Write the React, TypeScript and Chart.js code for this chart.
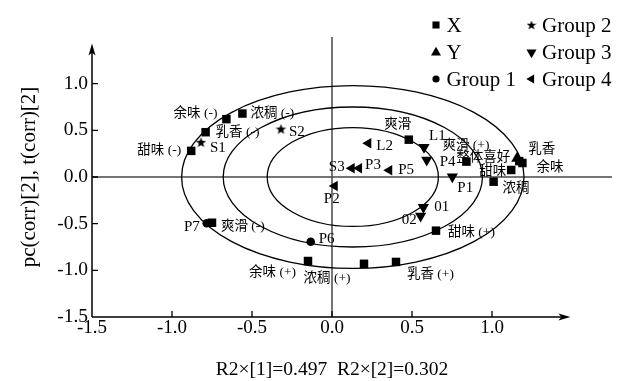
import React, { useEffect, useRef } from 'react';
import { Chart, registerables } from 'chart.js';
import { drawPoint } from 'chart.js/helpers';

Chart.register(...registerables);

// ---------------- data ----------------
const X_NAMES = ['余味 (-)', '浓稠 (-)', '乳香 (-)', '甜味 (-)', '爽滑', '爽滑 (+)', '乳香', '余味', '甜味', '浓稠', '爽滑 (-)', '余味 (+)', '浓稠 (+)', '乳香 (+)', '甜味 (+)'];
const X_PC1 = [-0.66, -0.56, -0.79, -0.88, 0.48, 0.84, 1.17, 1.19, 1.12, 1.01, -0.75, -0.15, 0.2, 0.4, 0.65];
const X_PC2 = [0.62, 0.68, 0.48, 0.28, 0.4, 0.165, 0.17, 0.15, 0.075, -0.05, -0.49, -0.9, -0.93, -0.91, -0.575];

const Y_NAMES = ['整体喜好'];
const Y_PC1 = [1.158];
const Y_PC2 = [0.2];

const G1_NAMES = ['P7', 'P6'];
const G1_PC1 = [-0.783, -0.133];
const G1_PC2 = [-0.496, -0.693];

const G2_NAMES = ['S1', 'S2'];
const G2_PC1 = [-0.819, -0.319];
const G2_PC2 = [0.372, 0.514];

const G3_NAMES = ['L1', 'P4', 'P1', '01', '02'];
const G3_PC1 = [0.575, 0.592, 0.752, 0.571, 0.554];
const G3_PC2 = [0.318, 0.182, 0.003, -0.325, -0.418];

const G4_NAMES = ['L2', 'S3', 'P3', 'P5', 'P2'];
const G4_PC1 = [0.227, 0.123, 0.169, 0.358, 0.017];
const G4_PC2 = [0.361, 0.093, 0.093, 0.072, -0.096];

const LEGEND_NAMES = ['X', 'Y', 'Group 1', 'Group 2', 'Group 3', 'Group 4'];

const X_TICKS = [-1.5, -1.0, -0.5, 0, 0.5, 1.0];
const Y_TICKS = [-1.5, -1.0, -0.5, 0, 0.5, 1.0];
const X_MIN = -1.5, X_MAX = 1.75, Y_MIN = -1.5, Y_MAX = 1.5;
const X_ARROW_END = 1.49;
const Y_ARROW_END = 1.43;

const ELLIPSE_CX = 0.13;
const ELLIPSE_CY = 0;
const ELLIPSE_RX = [1.07, 0.81, 0.535];
const ELLIPSE_RY = [0.98, 0.75, 0.53];

const X_TITLE = 'R2×[1]=0.497  R2×[2]=0.302';
const Y_TITLE = 'pc(corr)[2], t(corr)[2]';

// ---------------- layout / style (label placement) ----------------
type LP = [CanvasTextAlign, number, number];
const X_LABEL_POS: LP[] = [
  ['right', -9, -6], ['left', 8, 0], ['left', 10, 0], ['right', -10, 0], ['center', -11, -15],
  ['left', -24, -16], ['left', 9, -12], ['left', 14, 4], ['right', -5, 1], ['left', 9, 7],
  ['left', 9, 4], ['right', -12, 11], ['center', -37, 15], ['left', 11, 13], ['left', 12, 2],
];
const Y_LABEL_POS: LP[] = [['right', -7, -1]];
const G1_LABEL_POS: LP[] = [['right', -7, 4], ['left', 8, -3]];
const G2_LABEL_POS: LP[] = [['left', 9, 6], ['left', 8, 3]];
const G3_LABEL_POS: LP[] = [['left', 5, -11], ['left', 13, 2], ['left', 5, 11], ['left', 11, 0], ['right', -4, 4]];
const G4_LABEL_POS: LP[] = [['left', 8, 3], ['right', -7, -1], ['left', 6, -3], ['left', 9, 0], ['center', -3, 13]];

const SERIF = '"Liberation Serif", "Times New Roman", "Noto Sans CJK SC", serif';
const CJK_LABEL_FONT = `13.5px "Liberation Serif", "Noto Sans CJK SC", serif`;
const LATIN_LABEL_FONT = `15px ${SERIF}`;

function makeStar(size: number) {
  const c = document.createElement('canvas');
  c.width = size;
  c.height = size;
  const g = c.getContext('2d')!;
  const cx = size / 2, cy = size / 2 + 0.4;
  const R = size / 2, r = R * 0.42;
  g.beginPath();
  for (let i = 0; i < 10; i++) {
    const a = -Math.PI / 2 + (i * Math.PI) / 5;
    const rad = i % 2 ? r : R;
    const px = cx + Math.cos(a) * rad, py = cy + Math.sin(a) * rad;
    if (i === 0) g.moveTo(px, py); else g.lineTo(px, py);
  }
  g.closePath();
  g.fillStyle = '#000';
  g.fill();
  return c;
}

const pts = (a: number[], b: number[]) => a.map((v, i) => ({ x: v, y: b[i] }));

export default function App() {
  const ref = useRef<HTMLCanvasElement>(null);

  useEffect(() => {
    document.body.style.margin = '0';
    const star = makeStar(11);
    const legendStar = makeStar(10);

    const names = [X_NAMES, Y_NAMES, G1_NAMES, G2_NAMES, G3_NAMES, G4_NAMES];
    const labelPos = [X_LABEL_POS, Y_LABEL_POS, G1_LABEL_POS, G2_LABEL_POS, G3_LABEL_POS, G4_LABEL_POS];

    const decor = {
      id: 'decor',
      beforeDatasetsDraw(chart: any) {
        const { ctx, scales } = chart;
        const x = scales.x, y = scales.y;
        const px = (v: number) => x.getPixelForValue(v);
        const py = (v: number) => y.getPixelForValue(v);
        ctx.save();
        // zero lines
        ctx.strokeStyle = '#4a4a4a';
        ctx.lineWidth = 1.5;
        ctx.beginPath();
        ctx.moveTo(px(X_MIN), py(0));
        ctx.lineTo(px(X_MAX), py(0));
        ctx.moveTo(px(0), py(Y_MIN));
        ctx.lineTo(px(0), py(Y_MAX));
        ctx.stroke();
        // ellipses
        ctx.strokeStyle = '#000';
        ctx.lineWidth = 1.3;
        ELLIPSE_RX.forEach((rx, i) => {
          const cx = px(ELLIPSE_CX), cy = py(ELLIPSE_CY);
          const rpx = Math.abs(px(ELLIPSE_CX + rx) - cx);
          const rpy = Math.abs(py(ELLIPSE_CY + ELLIPSE_RY[i]) - cy);
          ctx.beginPath();
          ctx.ellipse(cx, cy, rpx, rpy, 0, 0, Math.PI * 2);
          ctx.stroke();
        });
        // axes
        ctx.strokeStyle = '#000';
        ctx.fillStyle = '#000';
        ctx.lineWidth = 1.5;
        const ox = px(X_MIN), oy = py(Y_MIN);
        const xe = px(X_ARROW_END), ye = py(Y_ARROW_END);
        ctx.beginPath();
        ctx.moveTo(ox, oy);
        ctx.lineTo(xe - 6, oy);
        ctx.moveTo(ox, oy);
        ctx.lineTo(ox, ye + 6);
        ctx.stroke();
        // arrow heads
        ctx.beginPath();
        ctx.moveTo(xe, oy);
        ctx.lineTo(xe - 12, oy - 3.5);
        ctx.lineTo(xe - 9, oy);
        ctx.lineTo(xe - 12, oy + 3.5);
        ctx.closePath();
        ctx.fill();
        ctx.beginPath();
        ctx.moveTo(ox, ye);
        ctx.lineTo(ox - 3.5, ye + 12);
        ctx.lineTo(ox, ye + 9);
        ctx.lineTo(ox + 3.5, ye + 12);
        ctx.closePath();
        ctx.fill();
        // inward ticks
        ctx.lineWidth = 1.3;
        ctx.beginPath();
        X_TICKS.forEach((v) => {
          if (v === X_MIN) return;
          ctx.moveTo(px(v), oy);
          ctx.lineTo(px(v), oy - 6);
        });
        Y_TICKS.forEach((v) => {
          if (v === Y_MIN) return;
          ctx.moveTo(ox, py(v));
          ctx.lineTo(ox + 6, py(v));
        });
        ctx.stroke();
        ctx.restore();
      },
      afterDatasetsDraw(chart: any) {
        const ctx = chart.ctx;
        ctx.save();
        ctx.fillStyle = '#000';
        ctx.textBaseline = 'middle';
        names.forEach((list, di) => {
          const meta = chart.getDatasetMeta(di);
          list.forEach((name, i) => {
            const el = meta.data[i];
            const [align, dx, dy] = labelPos[di][i];
            ctx.font = /[\u4e00-\u9fff]/.test(name) ? CJK_LABEL_FONT : LATIN_LABEL_FONT;
            ctx.textAlign = align;
            ctx.fillText(name, el.x + dx, el.y + dy);
          });
        });
        ctx.restore();
      },
      afterDraw(chart: any) {
        const ctx = chart.ctx;
        ctx.save();
        // legend
        const markers: any[] = [
          { pointStyle: 'rect', radius: 5, rotation: 0 },
          { pointStyle: 'triangle', radius: 5.8, rotation: 0 },
          { pointStyle: 'circle', radius: 3.6, rotation: 0 },
          { pointStyle: legendStar, radius: 5, rotation: 0 },
          { pointStyle: 'triangle', radius: 5.8, rotation: 180 },
          { pointStyle: 'triangle', radius: 5.2, rotation: -90 },
        ];
        const colX = [436, 531.5];
        const rowY = [25, 52.5, 79];
        const rowBase = [31.7, 59.3, 86];
        ctx.fillStyle = '#000';
        ctx.strokeStyle = '#000';
        ctx.font = `21px ${SERIF}`;
        ctx.textAlign = 'left';
        ctx.textBaseline = 'alphabetic';
        LEGEND_NAMES.forEach((name, i) => {
          const col = Math.floor(i / 3), row = i % 3;
          drawPoint(ctx, { ...markers[i], borderWidth: 0 }, colX[col], rowY[row]);
          ctx.fillText(name, colX[col] + 10.5, rowBase[row]);
        });
        // axis titles
        ctx.textAlign = 'center';
        ctx.font = `19.5px ${SERIF}`;
        ctx.fillText(X_TITLE, (chart.scales.x.getPixelForValue(0)), 375);
        ctx.save();
        ctx.translate(29, chart.scales.y.getPixelForValue(0));
        ctx.rotate(-Math.PI / 2);
        ctx.font = `21px ${SERIF}`;
        ctx.textBaseline = 'middle';
        ctx.fillText(Y_TITLE, 0, 0);
        ctx.restore();
        ctx.restore();
      },
    };

    const common = { backgroundColor: '#000', borderColor: '#000', borderWidth: 0, showLine: false };

    const chart = new Chart(ref.current!, {
      type: 'scatter',
      data: {
        datasets: [
          { ...common, label: LEGEND_NAMES[0], data: pts(X_PC1, X_PC2), pointStyle: 'rect', pointRadius: 6, rotation: 0 },
          { ...common, label: LEGEND_NAMES[1], data: pts(Y_PC1, Y_PC2), pointStyle: 'triangle', pointRadius: 7, rotation: 0 },
          { ...common, label: LEGEND_NAMES[2], data: pts(G1_PC1, G1_PC2), pointStyle: 'circle', pointRadius: 4.3, rotation: 0 },
          { ...common, label: LEGEND_NAMES[3], data: pts(G2_PC1, G2_PC2), pointStyle: star as any, pointRadius: 5.5, rotation: 0 },
          { ...common, label: LEGEND_NAMES[4], data: pts(G3_PC1, G3_PC2), pointStyle: 'triangle', pointRadius: 6.5, rotation: 180 },
          { ...common, label: LEGEND_NAMES[5], data: pts(G4_PC1, G4_PC2), pointStyle: 'triangle', pointRadius: 6, rotation: -90 },
        ] as any,
      },
      options: {
        responsive: false,
        animation: false,
        devicePixelRatio: 1,
        layout: { padding: { top: 37, right: 13, left: 0, bottom: 0 } },
        plugins: { legend: { display: false }, tooltip: { enabled: false } },
        events: [],
        scales: {
          x: {
            type: 'linear',
            min: X_MIN,
            max: X_MAX,
            afterBuildTicks: (axis: any) => { axis.ticks = X_TICKS.map((v) => ({ value: v })); },
            afterFit: (s: any) => { s.height = 64; },
            grid: { display: false, drawTicks: false },
            border: { display: false },
            ticks: {
              padding: 0,
              color: '#000',
              font: { family: SERIF, size: 19 },
              maxRotation: 0,
              autoSkip: false,
              callback: (v: any) => Number(v).toFixed(1),
            },
          },
          y: {
            type: 'linear',
            min: Y_MIN,
            max: Y_MAX,
            afterBuildTicks: (axis: any) => { axis.ticks = Y_TICKS.map((v) => ({ value: v })); },
            afterFit: (s: any) => { s.width = 92; },
            grid: { display: false, drawTicks: false },
            border: { display: false },
            ticks: {
              padding: 4,
              color: '#000',
              font: { family: SERIF, size: 19.5 },
              autoSkip: false,
              callback: (v: any) => Number(v).toFixed(1),
            },
          },
        },
      } as any,
      plugins: [decor],
    });
    return () => chart.destroy();
  }, []);

  return <canvas ref={ref} width={625} height={381} style={{ display: 'block' }} />;
}
